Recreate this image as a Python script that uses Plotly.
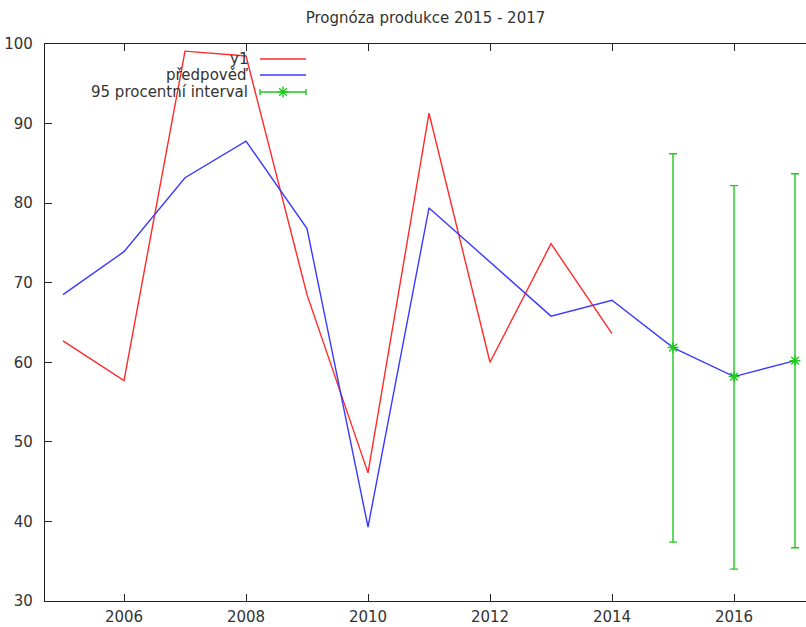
import plotly.graph_objects as go

# Observed production (y1)
obs_years = [2005, 2006, 2007, 2008, 2009, 2010, 2011, 2012, 2013, 2014]
y1 = [62.7, 57.7, 99.1, 98.5, 68.5, 46.1, 91.3, 60.0, 74.9, 63.6]

# Model prediction, including 2015-2017 forecast
fc_years = [2005, 2006, 2007, 2008, 2009, 2010, 2011, 2012, 2013, 2014, 2015, 2016, 2017]
forecast = [68.5, 73.9, 83.2, 87.8, 76.8, 39.3, 79.4, 72.6, 65.8, 67.8, 61.85, 58.2, 60.2]

# 95 % interval for forecast years
int_years = [2015, 2016, 2017]
int_mid = [61.85, 58.2, 60.2]
int_low = [37.4, 34.0, 36.7]
int_high = [86.2, 82.2, 83.7]

x_ticks = [2006, 2008, 2010, 2012, 2014, 2016]
y_ticks = [30, 40, 50, 60, 70, 80, 90, 100]

RED = "#ff2a2a"
BLUE = "#3a3aff"
GREEN = "#1ccc1c"
FONT = "DejaVu Sans"
TXT = "#333333"
FS = 15

W, H = 806, 627
L, R, T, B = 45, 0, 44, 26

fig = go.Figure()

fig.add_trace(go.Scatter(x=obs_years, y=y1, mode="lines",
                         line=dict(color=RED, width=1.4), showlegend=False))
fig.add_trace(go.Scatter(x=fc_years, y=forecast, mode="lines",
                         line=dict(color=BLUE, width=1.4), showlegend=False))
fig.add_trace(go.Scatter(
    x=int_years, y=int_mid, mode="markers",
    marker=dict(symbol="asterisk-open", size=9, color=GREEN,
                line=dict(color=GREEN, width=1.4)),
    error_y=dict(type="data", symmetric=False,
                 array=[h - m for h, m in zip(int_high, int_mid)],
                 arrayminus=[m - l for m, l in zip(int_mid, int_low)],
                 color=GREEN, thickness=1.4, width=4),
    showlegend=False))

# Key drawn on an overlay axis measured in page pixels
key_x0, key_x1 = 260, 306
key_rows = [59, 75, 92]
key_text_right = 250
fig.add_trace(go.Scatter(x=[key_x0, key_x1], y=[key_rows[0]] * 2, mode="lines",
                         line=dict(color=RED, width=1.4), xaxis="x2", yaxis="y2",
                         showlegend=False, hoverinfo="skip"))
fig.add_trace(go.Scatter(x=[key_x0, key_x1], y=[key_rows[1]] * 2, mode="lines",
                         line=dict(color=BLUE, width=1.4), xaxis="x2", yaxis="y2",
                         showlegend=False, hoverinfo="skip"))
fig.add_trace(go.Scatter(
    x=[(key_x0 + key_x1) / 2], y=[key_rows[2]], mode="markers",
    marker=dict(symbol="asterisk-open", size=9, color=GREEN,
                line=dict(color=GREEN, width=1.4)),
    error_x=dict(type="data", array=[(key_x1 - key_x0) / 2],
                 color=GREEN, thickness=1.4, width=3),
    xaxis="x2", yaxis="y2", showlegend=False, hoverinfo="skip"))

key_labels = ["y1", "předpověď", "95 procentní interval"]
annotations = []
for label, row in zip(key_labels, key_rows):
    annotations.append(dict(x=key_text_right, y=row, xref="x2", yref="y2",
                            text=label, showarrow=False, xanchor="right",
                            yanchor="middle",
                            font=dict(family=FONT, size=FS, color=TXT)))

fig.update_layout(
    width=W, height=H,
    margin=dict(l=L, r=R, t=T, b=B, autoexpand=False),
    paper_bgcolor="white", plot_bgcolor="white",
    font=dict(family=FONT, size=FS, color=TXT),
    title=dict(text="Prognóza produkce 2015 - 2017", x=(L + (W - R)) / 2 / W,
               xanchor="center", y=1 - 18 / H, yanchor="middle",
               font=dict(family=FONT, size=FS, color=TXT)),
    xaxis=dict(range=[2004.705, 2017.18], tickvals=x_ticks,
               showgrid=False, zeroline=False, automargin=False,
               showline=True, linecolor="#222222", linewidth=1.2,
               mirror="ticks", ticks="inside", ticklen=7, tickcolor="#222222",
               tickwidth=1.2, ticklabelstandoff=2),
    yaxis=dict(range=[30, 100], tickvals=y_ticks,
               showgrid=False, zeroline=False, automargin=False,
               showline=True, linecolor="#222222", linewidth=1.2,
               ticks="inside", ticklen=7, tickcolor="#222222", tickwidth=1.2,
               ticklabelstandoff=8),
    xaxis2=dict(overlaying="x", range=[L, W - R], visible=False, anchor="y2",
                automargin=False),
    yaxis2=dict(overlaying="y", range=[H - B, T], visible=False, anchor="x2",
                automargin=False),
    annotations=annotations,
    showlegend=False,
)

fig.write_html("out.html")
